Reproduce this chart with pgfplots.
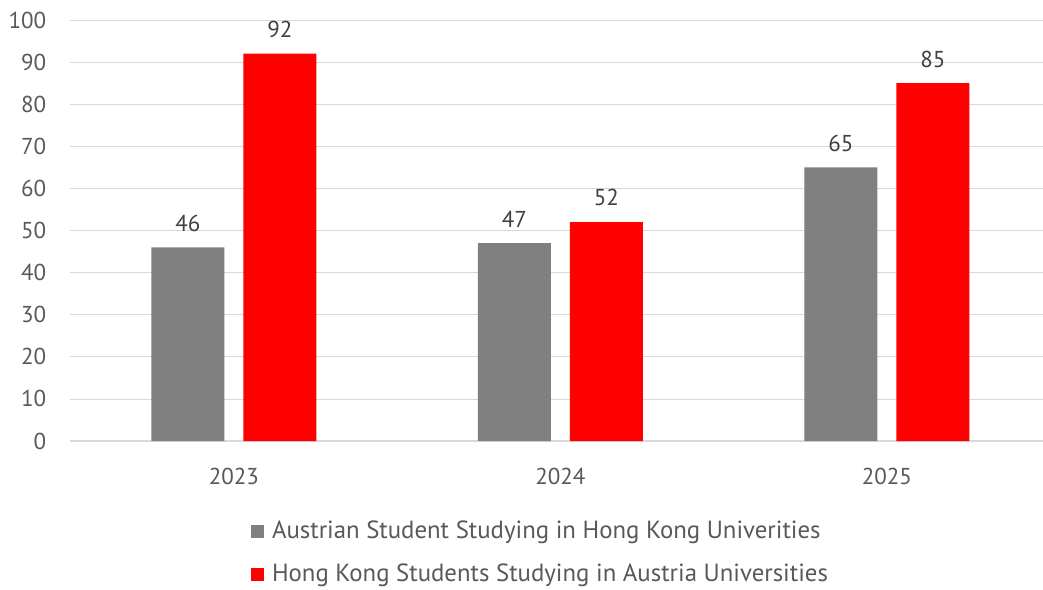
\documentclass[border=0pt]{standalone}
\usepackage{fontspec}
\setmainfont{PT Sans}
\usepackage{pgfplots}
\pgfplotsset{compat=1.18}
\definecolor{txt}{HTML}{595959}
\definecolor{lbl}{HTML}{404040}
\definecolor{gridc}{HTML}{D9D9D9}
\definecolor{bgray}{HTML}{808080}
\definecolor{bred}{HTML}{FF0000}
\begin{document}
\fontsize{23}{27}\selectfont
\begin{tikzpicture}
\path[use as bounding box] (-70pt,-148pt) rectangle (973pt,441pt);
\begin{axis}[
  at={(0pt,0pt)}, anchor=south west,
  scale only axis, width=973pt, height=421pt,
  ymin=0, ymax=100, ytick={0,10,...,100},
  xmin=-0.502, xmax=2.478, xtick={0,1,2}, xticklabels={2023,2024,2025},
  ybar=19pt, bar width=73pt,
  axis line style={draw=none},
  ymajorgrids, grid style={gridc, line width=0.8pt},
  major tick length=0pt,
  tick label style={font=\fontsize{23}{27}\selectfont, text=txt},
  /pgf/number format/assume math mode=true,
  yticklabel style={xshift=-16pt},
  xticklabel style={yshift=-19pt},
  nodes near coords,
  nodes near coords style={font=\fontsize{23}{27}\selectfont, text=lbl, yshift=8pt},
  legend style={draw=none, at={(0.5,-0.18)}, xshift=-16pt, anchor=north, font=\fontsize{24.8}{29}\selectfont, text=txt, row sep=18pt, /tikz/every odd column/.append style={column sep=6pt}},
  legend cell align=left,
  legend image code/.code={\fill[#1] (0pt,-6.5pt) rectangle (13pt,6.5pt);},
]
\draw[gridc, line width=1.5pt] (axis cs:-0.502,0) -- (axis cs:2.478,0);
\addplot[fill=bgray, draw=none] coordinates {(0,46) (1,47) (2,65)};
\addplot[fill=bred, draw=none] coordinates {(0,92) (1,52) (2,85)};
\legend{Austrian Student Studying in Hong Kong Univerities, Hong Kong Students Studying in Austria Universities}
\end{axis}
\end{tikzpicture}
\end{document}
